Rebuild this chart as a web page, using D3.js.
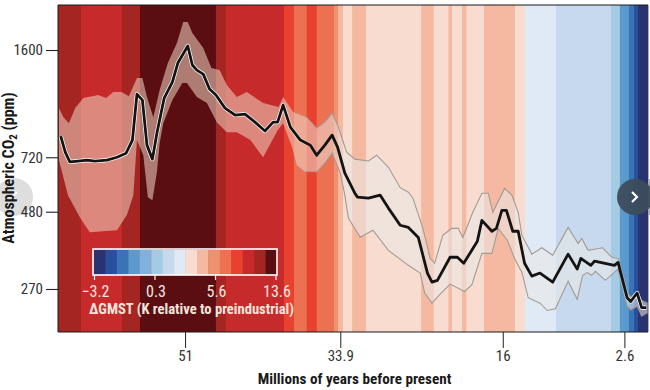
<!DOCTYPE html>
<html><head><meta charset="utf-8">
<script src="https://cdn.jsdelivr.net/npm/d3@7/dist/d3.min.js"></script>
<style>html,body{margin:0;padding:0;background:#fff;overflow:hidden}svg{display:block}
text{font-family:"Liberation Sans Narrow","Roboto Condensed","Liberation Sans",sans-serif}</style>
</head><body><div id="c"></div>
<script>
const legendColors=["#28336f","#27509f","#3a74b7","#5c99cc","#80b1da","#a3cbe4","#c6d9ee","#dfeaf6","#f8dccf","#f5b8a0","#ef9170","#ec7052","#e8412f","#c62a2a","#a52522","#5b0e12"];
const legendTicks=["\u22123.2","0.3","5.6","13.6"];
// stripe: older edge age (Myr) and colour class
const stripeEdges=[65,62.47,57.95,55.97,47.6,46.5,40.1,39,37.6,36.5,34.6,34.15,33.6,32.6,31.07,25,23.6,22,21.6,20.5,20,18.07,14.65,13.55,10.14,4.08,3.1,2.1,1.54,1.1,0];
const stripeClass=[14,13,14,15,14,13,12,11,12,11,10,9,8,9,8,9,8,9,8,9,8,9,8,7,6,5,3,2,1,0];
const medAge=[64.7,64.2,63.7,62.8,61.8,60.9,59.6,58.5,57.5,56.8,56.3,55.7,55.2,54.6,54.1,53.3,52.4,51.8,50.7,50.2,49.7,49.0,48.3,47.6,46.6,45.5,44.4,43.3,42.2,41.3,40.8,40.2,39.4,38.3,37.2,36.5,35.6,34.8,34.2,33.4,32.3,32.0,30.8,29.5,28.6,27.3,26.4,25.3,24.3,23.8,23.2,21.8,21.0,20.3,18.8,18.3,17.2,16.7,16.1,15.6,14.9,14.3,13.6,12.8,11.9,10.5,8.8,7.8,7.4,6.3,5.9,3.7,3.3,2.3,1.9,1.2,0.7,0.2];
const medCO2=[842,748,696,700,705,700,705,720,742,818,1152,1102,788,710,862,1119,1260,1452,1648,1431,1378,1337,1196,1144,1038,986,993,935,875,935,935,1061,901,818,788,731,788,849,776,640,551,535,531,543,493,434,427,396,304,284,288,342,342,327,385,450,415,424,485,485,415,415,327,297,304,284,350,313,339,322,332,322,329,253,246,262,235,235];
const upAge=[64.9,64.4,63.8,63.1,62.2,60.6,59.7,58.9,58.0,57.2,56.3,55.7,55.2,54.5,53.8,52.9,51.9,51.2,50.7,50.2,49.0,48.1,47.2,46.4,45.3,44.2,42.4,40.7,40.2,39.1,37.6,36.5,35.6,34.8,34.2,33.2,32.3,30.8,29.9,28.6,27.3,26.4,25.9,24.8,24.0,23.5,22.6,21.6,20.9,20.4,19.3,18.3,17.6,17.1,15.8,15.0,14.3,13.9,12.8,11.7,10.5,8.8,7.7,7.3,6.6,5.0,4.0,3.3,2.3,1.9,1.2,0.7,0.1];
const upCO2=[1038,970,928,1038,1119,1144,1119,1170,1170,1135,1299,1299,1127,970,1187,1452,1686,1971,1971,1816,1624,1400,1378,1232,1127,1170,1078,1046,1127,1008,970,894,935,1000,915,748,710,700,731,668,574,555,531,424,339,327,403,424,424,396,478,551,551,478,571,543,478,403,350,367,347,427,379,393,360,367,342,339,262,254,264,248,243];
const lowAge=[64.9,63.9,62.6,61.5,58.5,57.4,56.7,56.3,55.6,55.1,54.6,54.1,53.8,53.4,52.4,51.3,50.8,49.7,48.6,47.5,46.4,45.3,43.8,42.4,40.8,40.2,39.2,38.7,37.8,36.5,35.6,34.8,33.9,33.4,33.0,31.7,30.3,28.6,26.4,25.1,24.6,23.8,22.9,21.8,20.2,19.4,18.3,17.2,16.5,15.5,14.7,13.9,13.2,11.9,11.1,10.2,8.8,7.8,7.2,6.7,6.2,5.8,4.7,3.3,2.3,1.9,1.2,0.7,0.1];
const lowCO2=[705,543,461,412,418,469,543,818,731,535,523,646,800,928,1102,1251,1251,1127,1078,935,868,868,818,720,881,928,776,678,646,646,690,742,640,543,457,397,418,360,322,304,262,243,260,280,265,279,352,352,424,388,339,306,253,243,230,233,286,250,299,305,299,308,288,313,238,231,238,221,226];
const yTicks=[270,480,720,1600];
const xTicks=[51,33.9,16,2.6];

const svg=d3.select("#c").append("svg").attr("width",650).attr("height",390);
const x=d3.scaleLinear().domain([65,0]).range([58,648]);
const y=d3.scaleLog().domain([196,2237]).range([332,5]);
const defs=svg.append("defs");
function grad(id,stops){const g=defs.append("linearGradient").attr("id",id).attr("gradientUnits","userSpaceOnUse").attr("x1",58).attr("x2",648).attr("y1",0).attr("y2",0);
 stops.forEach(s=>g.append("stop").attr("offset",s[0]).attr("stop-color",s[1]).attr("stop-opacity",s[2]));}
grad("bandStroke",[[0,"#a39a94",0],[0.38,"#a39a94",0],[0.46,"#a39a94",1],[1,"#a39a94",1]]);
grad("bandFill",[[0,"#eed2bf",0.56],[0.38,"#eed2bf",0.56],[0.5,"#e9e8e6",0.55],[1,"#e9e8e6",0.55]]);
grad("halo",[[0,"#fff",1],[0.38,"#fff",1],[0.44,"#fff",0],[0.95,"#fff",0],[0.98,"#fff",1],[1,"#fff",1]]);

// slider control behind the axis labels
svg.append("circle").attr("cx",14).attr("cy",197).attr("r",19).attr("fill","#d8d8d8").attr("fill-opacity",0.85);
svg.append("path").attr("d","M17,192l-5,5l5,5").attr("fill","none").attr("stroke","#fff").attr("stroke-width",2);

svg.append("g").selectAll("rect").data(stripeClass).join("rect")
 .attr("x",(d,i)=>x(stripeEdges[i])).attr("width",(d,i)=>x(stripeEdges[i+1])-x(stripeEdges[i])+0.4)
 .attr("y",y.range()[1]).attr("height",y.range()[0]-y.range()[1]).attr("fill",d=>legendColors[d]);

const line=d3.line().x(d=>x(d[0])).y(d=>y(d[1]));
const up=d3.zip(upAge,upCO2), low=d3.zip(lowAge,lowCO2), med=d3.zip(medAge,medCO2);
const band=up.concat(low.slice().reverse());
svg.append("path").attr("d",line(band)+"Z").attr("fill","url(#bandFill)")
 .attr("stroke","url(#bandStroke)").attr("stroke-width",1.1);
svg.append("path").attr("d",line(med)).attr("fill","none").attr("stroke","url(#halo)").attr("stroke-width",4.2).attr("stroke-linejoin","round");
svg.append("path").attr("d",line(med)).attr("fill","none").attr("stroke","#141414").attr("stroke-width",2.8).attr("stroke-linejoin","round");

// frame
svg.append("path").attr("d",`M648,5H58V332H648`).attr("fill","none").attr("stroke","#1a1a1a").attr("stroke-width",1);

const yAxis=svg.append("g").attr("transform","translate(58,0)")
 .call(d3.axisLeft(y).tickValues(yTicks).tickFormat(d3.format("d")).tickSize(12).tickPadding(3));
yAxis.select(".domain").remove();
yAxis.selectAll("line").attr("stroke","#222").attr("stroke-width",1.1);
yAxis.selectAll("text").attr("font-size",15).attr("fill","#333");
const xAxis=svg.append("g").attr("transform","translate(0,332)")
 .call(d3.axisBottom(x).tickValues(xTicks).tickFormat(d=>d).tickSize(16).tickPadding(2));
xAxis.select(".domain").remove();
xAxis.selectAll("line").attr("stroke","#222").attr("stroke-width",1);
xAxis.selectAll("text").attr("font-size",15).attr("fill","#333");

svg.append("text").attr("x",354.5).attr("y",384).attr("text-anchor","middle").attr("font-size",15.2).attr("font-weight","bold").attr("fill","#1a1a1a").text("Millions of years before present");
const yl=svg.append("text").attr("transform","translate(14,168) rotate(-90)").attr("text-anchor","middle").attr("font-size",16).attr("font-weight","bold").attr("fill","#1a1a1a");
yl.append("tspan").text("Atmospheric CO");
yl.append("tspan").attr("font-size",11).attr("dy",3).text("2");
yl.append("tspan").attr("dy",-3).text(" (ppm)");

// legend
const lx=d3.scaleBand().domain(d3.range(legendColors.length)).range([94,277]);
const lg=svg.append("g");
lg.selectAll("rect").data(legendColors).join("rect").attr("x",(d,i)=>lx(i)).attr("y",250).attr("width",lx.bandwidth()+0.4).attr("height",25).attr("fill",d=>d);
lg.append("rect").attr("x",93).attr("y",249).attr("width",184).attr("height",26).attr("fill","none").attr("stroke","#fff").attr("stroke-width",1.6);
const tx=d3.scaleLinear().domain([0,3]).range([94.5,276]);
legendTicks.forEach((t,i)=>{
 lg.append("line").attr("x1",tx(i)).attr("x2",tx(i)).attr("y1",275).attr("y2",280).attr("stroke","#fff").attr("stroke-width",1.2);
 lg.append("text").attr("x",tx(i)+1).attr("y",297).attr("text-anchor","middle").attr("font-size",16).attr("fill","#f4e6e0").text(t);
});
lg.append("text").attr("x",191.5).attr("y",314).attr("text-anchor","middle").attr("font-size",14.6).attr("font-weight","bold").attr("fill","#f6e4dc").text("\u0394GMST (K relative to preindustrial)");

// slider control, right
svg.append("rect").attr("x",648).attr("y",179).attr("width",2).attr("height",36).attr("fill","#aaa");
svg.append("circle").attr("cx",635).attr("cy",197).attr("r",18).attr("fill","#3c4c5c").attr("fill-opacity",0.95);
svg.append("path").attr("d","M632,192l5,5l-5,5").attr("fill","none").attr("stroke","#fff").attr("stroke-width",2.2);
</script></body></html>
